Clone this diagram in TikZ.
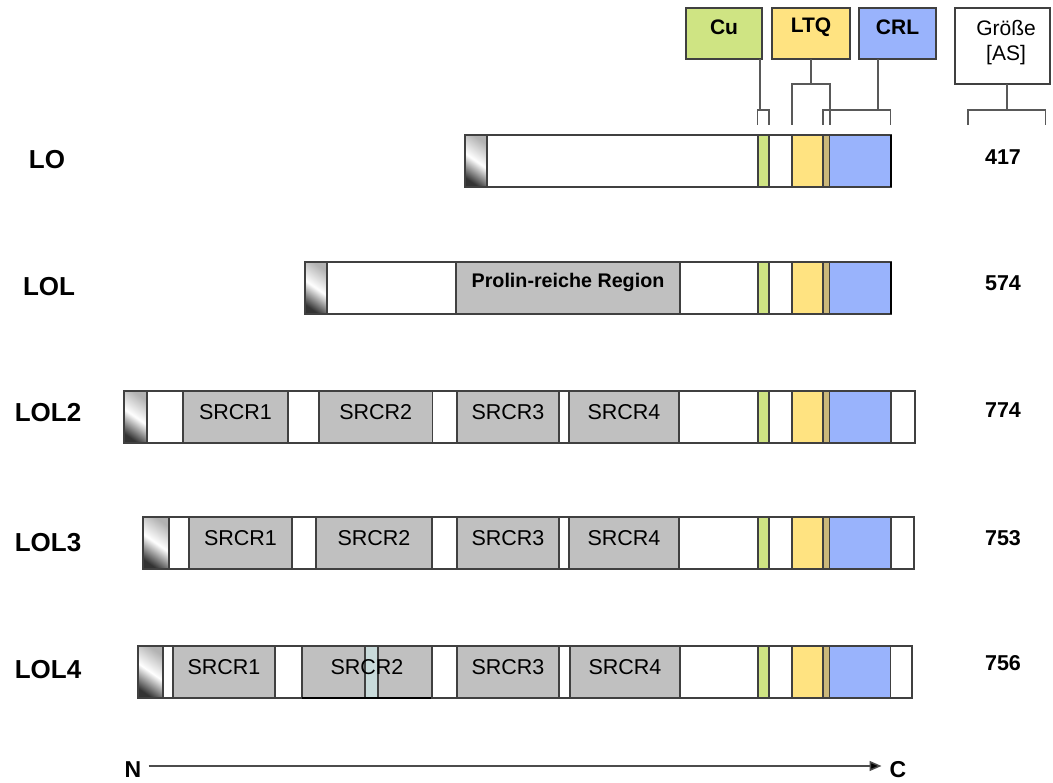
\documentclass[tikz,border=0pt]{standalone}
\usepackage{fontspec}
\setmainfont{Liberation Sans}
\usetikzlibrary{arrows.meta}
\definecolor{cugreen}{HTML}{CFE483}
\definecolor{ltqyellow}{HTML}{FFE381}
\definecolor{crlblue}{HTML}{99B3FC}
\definecolor{tanov}{HTML}{CBB87A}
\definecolor{domgray}{HTML}{C0C0C0}
\definecolor{stripc}{HTML}{C8DADA}
\definecolor{edge}{HTML}{404040}
\newcommand\dom[6]{\node[seg,#6,minimum width={#3-#2}] (#1) at (#2,#4) {};%
  \ifx\relax#5\relax\else\node[dlab] at ([yshift=5pt]#1.center) {#5};\fi}
\newcommand\gradcell[4]{\node[seg,minimum width={#3-#2},shading=axis,top color=black!30,bottom color=black!80,middle color=white,shading angle=-35] (#1) at (#2,#4) {};}
\begin{document}
\begin{tikzpicture}[x=1pt,y=-1pt,
  seg/.style={draw=edge,line width=1.1pt,inner sep=0pt,outer sep=0pt,anchor=north west,minimum height=52pt},
  dlab/.style={font=\fontsize{21.5}{23}\selectfont,inner sep=0pt},
  plab/.style={font=\bfseries\fontsize{19.7}{21}\selectfont,inner sep=0pt},
  rowlab/.style={font=\bfseries\fontsize{26}{28}\selectfont,inner sep=0pt},
  numlab/.style={font=\bfseries\fontsize{21.5}{23}\selectfont,inner sep=0pt},
  legbox/.style={draw=edge,line width=1.1pt,inner sep=0pt,outer sep=0pt,anchor=north west},
  leglab/.style={font=\bfseries\fontsize{21}{23}\selectfont,inner sep=0pt},
  grlab/.style={font=\fontsize{21}{23}\selectfont,inner sep=0pt},
  brk/.style={draw=black!65,line width=1.3pt},
  axisarrow/.style={draw=black!70,line width=1.5pt,-{Triangle[length=12pt,width=10pt,fill=black]}}]
\useasboundingbox[fill=white] (0,0) rectangle (1053,783);

% ---------- legend ----------
\node[legbox,fill=cugreen,minimum width=76pt,minimum height=51pt] (cu) at (686,8) {};
\node[leglab] at ([yshift=6pt]cu.center) {Cu};
\node[legbox,fill=ltqyellow,minimum width=78pt,minimum height=51pt] (ltq) at (772,8) {};
\node[leglab] at ([yshift=6pt]ltq.center) {LTQ};
\node[legbox,fill=crlblue,minimum width=77pt,minimum height=51pt] (crl) at (859,8) {};
\node[leglab] at ([yshift=6pt]crl.center) {CRL};
\node[legbox,fill=white,minimum width=95pt,minimum height=76pt] (gr) at (955,8) {};
\node[grlab] (grt) at (1006,28) {Größe};
\node[grlab] (grs) at (1006,55) {[AS]};

% bracket coordinates
\coordinate (cuM) at (760,110);  \coordinate (cuL) at (757.5,125); \coordinate (cuR) at (769,125);
\coordinate (ltM) at (811,84);   \coordinate (ltL) at (792,125);   \coordinate (ltR) at (830,125);
\coordinate (crM) at (878,110);  \coordinate (crL) at (823,125);   \coordinate (crR) at (890.5,125);
\coordinate (grM) at (1007,110); \coordinate (grL) at (968,125);   \coordinate (grR) at (1045.5,125);

\draw[brk] (cu.south -| cuM) -- (cuM);
\draw[brk] (cuL) |- (cuM) -| (cuR);
\draw[brk] (ltq.south -| ltM) -- (ltM);
\draw[brk] (ltL) |- (ltM) -| (ltR);
\draw[brk] (crl.south -| crM) -- (crM);
\draw[brk] (crL) |- (crM) -| (crR);
\draw[brk] (gr.south -| grM) -- (grM);
\draw[brk] (grL) |- (grM) -| (grR);

% ---------- LO ----------
\node[rowlab] (tLO) at (47,160) {LO};
\gradcell{loG}{465}{487}{135}
\dom{loW1}{487}{758}{135}{}{fill=white}
\dom{loCu}{758}{769}{135}{}{fill=cugreen}
\dom{loW2}{769}{792}{135}{}{fill=white}
\dom{loY}{792}{823}{135}{}{fill=ltqyellow}
\dom{loB}{829.5}{891}{135}{}{fill=crlblue}
\dom{loT}{823}{829.5}{135}{}{fill=tanov}
\draw[line width=2pt,black] (loB.north east) -- (loB.south east);
\node[numlab] (nLO) at (1003,157) {417};

% ---------- LOL ----------
\node[rowlab] (tLOL) at (49,287) {LOL};
\gradcell{lG}{305}{327}{262}
\dom{lW1}{327}{456}{262}{}{fill=white}
\dom{lP}{456}{680}{262}{}{fill=domgray}
\node[plab] at ([yshift=6pt]lP.center) {Prolin-reiche Region};
\dom{lW2}{680}{758}{262}{}{fill=white}
\dom{lCu}{758}{769}{262}{}{fill=cugreen}
\dom{lW3}{769}{792}{262}{}{fill=white}
\dom{lY}{792}{823}{262}{}{fill=ltqyellow}
\dom{lB}{829.5}{891}{262}{}{fill=crlblue}
\dom{lT}{823}{829.5}{262}{}{fill=tanov}
\draw[line width=2pt,black] (lB.north east) -- (lB.south east);
\node[numlab] (nLOL) at (1003,283) {574};

% ---------- LOL2 ----------
\node[rowlab] (tLOL2) at (48,413) {LOL2};
\gradcell{aG}{124}{147}{391}
\dom{aW1}{147}{183}{391}{}{fill=white}
\dom{aS1}{183}{288}{391}{SRCR1}{fill=domgray}
\dom{aW2}{288}{319}{391}{}{fill=white}
\dom{aS2}{319}{432.5}{391}{SRCR2}{fill=domgray}
\dom{aW3}{432.5}{457}{391}{}{fill=white}
\dom{aS3}{457}{559}{391}{SRCR3}{fill=domgray}
\dom{aW4}{559}{569}{391}{}{fill=white}
\dom{aS4}{569}{679}{391}{SRCR4}{fill=domgray}
\dom{aW5}{679}{758}{391}{}{fill=white}
\dom{aCu}{758}{769}{391}{}{fill=cugreen}
\dom{aW6}{769}{792}{391}{}{fill=white}
\dom{aY}{792}{823}{391}{}{fill=ltqyellow}
\dom{aB}{829.5}{891}{391}{}{fill=crlblue}
\dom{aT}{823}{829.5}{391}{}{fill=tanov}
\dom{aW7}{891}{915}{391}{}{fill=white}
\node[numlab] (nLOL2) at (1003,410) {774};

% ---------- LOL3 ----------
\node[rowlab] (tLOL3) at (48,543) {LOL3};
\gradcell{bG}{143}{169}{517}
\dom{bW1}{169}{189}{517}{}{fill=white}
\dom{bS1}{189}{292}{517}{SRCR1}{fill=domgray}
\dom{bW2}{292}{316}{517}{}{fill=white}
\dom{bS2}{316}{432}{517}{SRCR2}{fill=domgray}
\dom{bW3}{432}{457}{517}{}{fill=white}
\dom{bS3}{457}{559}{517}{SRCR3}{fill=domgray}
\dom{bW4}{559}{569}{517}{}{fill=white}
\dom{bS4}{569}{679}{517}{SRCR4}{fill=domgray}
\dom{bW5}{679}{758}{517}{}{fill=white}
\dom{bCu}{758}{769}{517}{}{fill=cugreen}
\dom{bW6}{769}{792}{517}{}{fill=white}
\dom{bY}{792}{823}{517}{}{fill=ltqyellow}
\dom{bB}{829.5}{891}{517}{}{fill=crlblue}
\dom{bT}{823}{829.5}{517}{}{fill=tanov}
\dom{bW7}{891}{914}{517}{}{fill=white}
\node[numlab] (nLOL3) at (1003,538) {753};

% ---------- LOL4 ----------
\node[rowlab] (tLOL4) at (48,670) {LOL4};
\gradcell{cG}{138}{163}{646}
\dom{cW1}{163}{173}{646}{}{fill=white}
\dom{cS1}{173}{275}{646}{SRCR1}{fill=domgray}
\dom{cW2}{275}{302}{646}{}{fill=white}
\node[seg,fill=domgray,minimum width=130pt] (cS2) at (302,646) {};
\node[seg,fill=stripc,minimum width=13pt] (cSt) at (365,646) {};
\node[dlab] at ([yshift=5pt]cS2.center) {SRCR2};
\draw[line width=2pt,black] (cS2.south west) -- (cS2.south east);
\dom{cW3}{432}{457}{646}{}{fill=white}
\dom{cS3}{457}{559}{646}{SRCR3}{fill=domgray}
\dom{cW4}{559}{570}{646}{}{fill=white}
\dom{cS4}{570}{680}{646}{SRCR4}{fill=domgray}
\dom{cW5}{680}{758}{646}{}{fill=white}
\dom{cCu}{758}{769}{646}{}{fill=cugreen}
\dom{cW6}{769}{792}{646}{}{fill=white}
\dom{cY}{792}{823}{646}{}{fill=ltqyellow}
\dom{cB}{829.5}{890.5}{646}{}{fill=crlblue}
\dom{cT}{823}{829.5}{646}{}{fill=tanov}
\dom{cW7}{890.5}{912}{646}{}{fill=white}
\node[numlab] (nLOL4) at (1003,663) {756};

% ---------- N -> C ----------
\node[font=\bfseries\fontsize{23}{25}\selectfont,inner sep=0pt] (N) at (133,770) {N};
\node[font=\bfseries\fontsize{23}{25}\selectfont,inner sep=0pt] (C) at (898,770) {C};
\draw[axisarrow] ([xshift=7pt,yshift=4pt]N.east) -- ([xshift=-8pt,yshift=4pt]C.west);
\end{tikzpicture}
\end{document}
